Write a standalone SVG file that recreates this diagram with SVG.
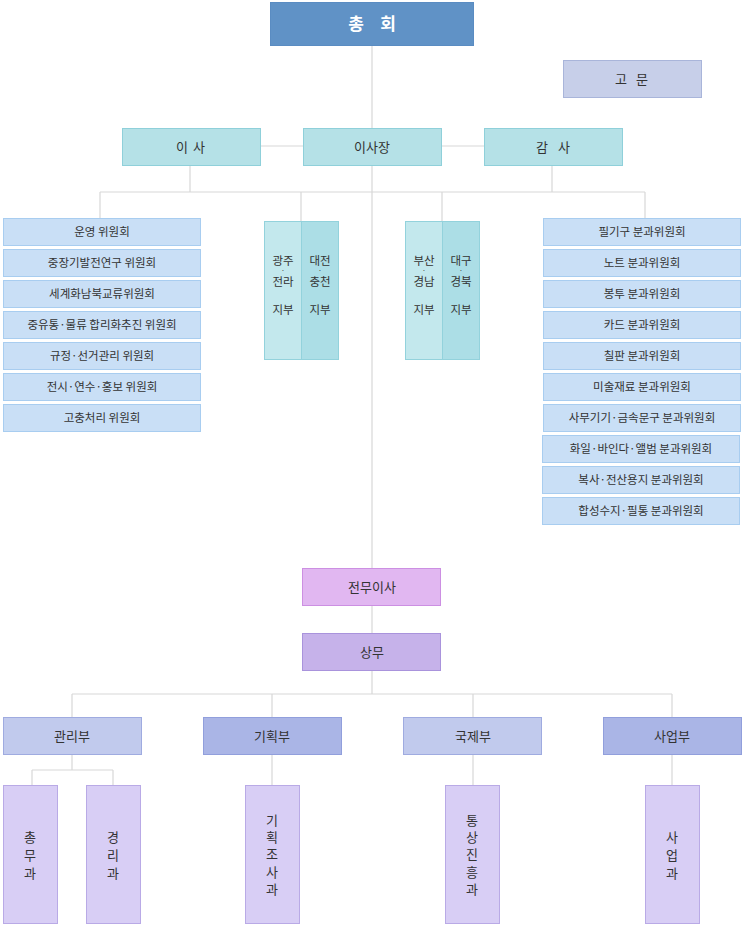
<svg xmlns="http://www.w3.org/2000/svg" width="745" height="927" viewBox="0 0 745 927">
<style>
text{font-family:"Noto Sans CJK KR","Noto Sans",sans-serif;fill:#333;text-anchor:middle}
.t13{font-size:13px}
.t12{font-size:11.5px}
.dot{font-size:7px}
.line{stroke:#d8d8d8;stroke-width:1.2;fill:none}
.top{fill:#6092c6;stroke:#5a8cc2}
.adv{fill:#c7cfe9;stroke:#a9b5da}
.teal{fill:#b5e1e7;stroke:#8fd0da}
.lb{fill:#c9dff6;stroke:#a8cdf0}
.br1{fill:#c3e8ed;stroke:#93d2dc}
.br2{fill:#acdee6;stroke:#93d2dc}
.exec{fill:#e1b7f1;stroke:#cc8fe2}
.sm{fill:#c6b2ea;stroke:#a993dc}
.d1{fill:#c1caed;stroke:#9fabe0}
.d2{fill:#aab5e6;stroke:#919fdc}
.sec{fill:#d8cef5;stroke:#b9aae6}
</style>
<g id="connectors">
<path class="line" d="M372 45V568M372 605V633M372 670V694"/>
<path class="line" d="M260 146H303M441 146H484"/>
<path class="line" d="M100 192H645M190 165V192M552 165V192M100 192V218M301 192V221M442 192V221M645 192V218"/>
<path class="line" d="M72 694H672M72 694V717M272 694V717M473 694V717M672 694V717"/>
<path class="line" d="M72 754V770M32 770H113M32 770V785M113 770V785M272 754V785M473 754V785M672 754V785"/>
</g>
<g id="chonghoe"><rect class="top" x="270.5" y="2.5" width="203" height="43"/><text x="356" y="30" style="fill:#fff;font-size:17px;font-weight:bold">총</text><text x="388" y="30" style="fill:#fff;font-size:17px;font-weight:bold">회</text></g>
<g id="gomun"><rect class="adv" x="563.5" y="60.5" width="138" height="37"/><text class="t13" x="621" y="84">고</text><text class="t13" x="642" y="84">문</text></g>
<g id="isa"><rect class="teal" x="122.5" y="128.5" width="138" height="37"/><text class="t13" x="182" y="152">이</text><text class="t13" x="199" y="152">사</text></g>
<g id="isajang"><rect class="teal" x="303.5" y="128.5" width="138" height="37"/><text class="t13" x="372" y="152">이사장</text></g>
<g id="gamsa"><rect class="teal" x="484.5" y="128.5" width="138" height="37"/><text class="t13" x="542" y="152">감</text><text class="t13" x="564" y="152">사</text></g>
<g id="committees">
<g id="c1"><rect class="lb" x="3.5" y="218.5" width="197" height="27"/><text class="t12" x="102" y="236">운영 위원회</text></g>
<g id="c2"><rect class="lb" x="3.5" y="249.5" width="197" height="27"/><text class="t12" x="102" y="267">중장기발전연구 위원회</text></g>
<g id="c3"><rect class="lb" x="3.5" y="280.5" width="197" height="27"/><text class="t12" x="102" y="298">세계화남북교류위원회</text></g>
<g id="c4"><rect class="lb" x="3.5" y="311.5" width="197" height="27"/><text class="t12" x="102" y="329">중유통·물류 합리화추진 위원회</text></g>
<g id="c5"><rect class="lb" x="3.5" y="342.5" width="197" height="27"/><text class="t12" x="102" y="360">규정·선거관리 위원회</text></g>
<g id="c6"><rect class="lb" x="3.5" y="373.5" width="197" height="27"/><text class="t12" x="102" y="391">전시·연수·홍보 위원회</text></g>
<g id="c7"><rect class="lb" x="3.5" y="404.5" width="197" height="27"/><text class="t12" x="102" y="422">고충처리 위원회</text></g>
</g>
<g id="branch-gwangju"><rect class="br1" x="264.5" y="221.5" width="37" height="138"/><text class="t12" x="283" y="265">광주<tspan class="dot" x="283" dy="8">·</tspan><tspan x="283" dy="13">전라</tspan><tspan x="283" dy="28">지부</tspan></text></g>
<g id="branch-daejeon"><rect class="br2" x="301.5" y="221.5" width="37" height="138"/><text class="t12" x="320" y="265">대전<tspan class="dot" x="320" dy="8">·</tspan><tspan x="320" dy="13">충천</tspan><tspan x="320" dy="28">지부</tspan></text></g>
<g id="branch-busan"><rect class="br1" x="405.5" y="221.5" width="37" height="138"/><text class="t12" x="424" y="265">부산<tspan class="dot" x="424" dy="8">·</tspan><tspan x="424" dy="13">경남</tspan><tspan x="424" dy="28">지부</tspan></text></g>
<g id="branch-daegu"><rect class="br2" x="442.5" y="221.5" width="37" height="138"/><text class="t12" x="461" y="265">대구<tspan class="dot" x="461" dy="8">·</tspan><tspan x="461" dy="13">경북</tspan><tspan x="461" dy="28">지부</tspan></text></g>
<g id="subcommittees">
<g id="s1"><rect class="lb" x="543.5" y="218.5" width="197" height="27"/><text class="t12" x="642" y="236">필기구 분과위원회</text></g>
<g id="s2"><rect class="lb" x="543.5" y="249.5" width="197" height="27"/><text class="t12" x="642" y="267">노트 분과위원회</text></g>
<g id="s3"><rect class="lb" x="543.5" y="280.5" width="197" height="27"/><text class="t12" x="642" y="298">봉투 분과위원회</text></g>
<g id="s4"><rect class="lb" x="543.5" y="311.5" width="197" height="27"/><text class="t12" x="642" y="329">카드 분과위원회</text></g>
<g id="s5"><rect class="lb" x="543.5" y="342.5" width="197" height="27"/><text class="t12" x="642" y="360">칠판 분과위원회</text></g>
<g id="s6"><rect class="lb" x="543.5" y="373.5" width="197" height="27"/><text class="t12" x="642" y="391">미술재료 분과위원회</text></g>
<g id="s7"><rect class="lb" x="543.5" y="404.5" width="197" height="27"/><text class="t12" x="642" y="422">사무기기·금속문구 분과위원회</text></g>
<g id="s8"><rect class="lb" x="542.5" y="435.5" width="197" height="27"/><text class="t12" x="641" y="453">화일·바인다·앨범 분과위원회</text></g>
<g id="s9"><rect class="lb" x="542.5" y="466.5" width="197" height="27"/><text class="t12" x="641" y="484">복사·전산용지 분과위원회</text></g>
<g id="s10"><rect class="lb" x="542.5" y="497.5" width="197" height="27"/><text class="t12" x="641" y="515">합성수지·필통 분과위원회</text></g>
</g>
<g id="jeonmu"><rect class="exec" x="302.5" y="568.5" width="138" height="37"/><text class="t13" x="372" y="592">전무이사</text></g>
<g id="sangmu"><rect class="sm" x="302.5" y="633.5" width="138" height="37"/><text class="t13" x="372" y="657">상무</text></g>
<g id="gwanri"><rect class="d1" x="3.5" y="717.5" width="138" height="37"/><text class="t13" x="72" y="741">관리부</text></g>
<g id="gihoek"><rect class="d2" x="203.5" y="717.5" width="138" height="37"/><text class="t13" x="272" y="741">기획부</text></g>
<g id="gukje"><rect class="d1" x="403.5" y="717.5" width="138" height="37"/><text class="t13" x="473" y="741">국제부</text></g>
<g id="saeop"><rect class="d2" x="603.5" y="717.5" width="138" height="37"/><text class="t13" x="672" y="741">사업부</text></g>
<g id="chongmu"><rect class="sec" x="3.5" y="785.5" width="54" height="138"/><text class="t13" x="30" y="842">총</text><text class="t13" x="30" y="860">무</text><text class="t13" x="30" y="878">과</text></g>
<g id="gyeongri"><rect class="sec" x="86.5" y="785.5" width="54" height="138"/><text class="t13" x="113" y="842">경</text><text class="t13" x="113" y="860">리</text><text class="t13" x="113" y="878">과</text></g>
<g id="gihoekjosa"><rect class="sec" x="245.5" y="785.5" width="54" height="138"/><text class="t13" x="272" y="825">기</text><text class="t13" x="272" y="842">획</text><text class="t13" x="272" y="859">조</text><text class="t13" x="272" y="877">사</text><text class="t13" x="272" y="894">과</text></g>
<g id="tongsang"><rect class="sec" x="445.5" y="785.5" width="54" height="138"/><text class="t13" x="472" y="825">통</text><text class="t13" x="472" y="842">상</text><text class="t13" x="472" y="859">진</text><text class="t13" x="472" y="877">흥</text><text class="t13" x="472" y="894">과</text></g>
<g id="saeopgwa"><rect class="sec" x="645.5" y="785.5" width="54" height="138"/><text class="t13" x="672" y="842">사</text><text class="t13" x="672" y="860">업</text><text class="t13" x="672" y="878">과</text></g>
</svg>
